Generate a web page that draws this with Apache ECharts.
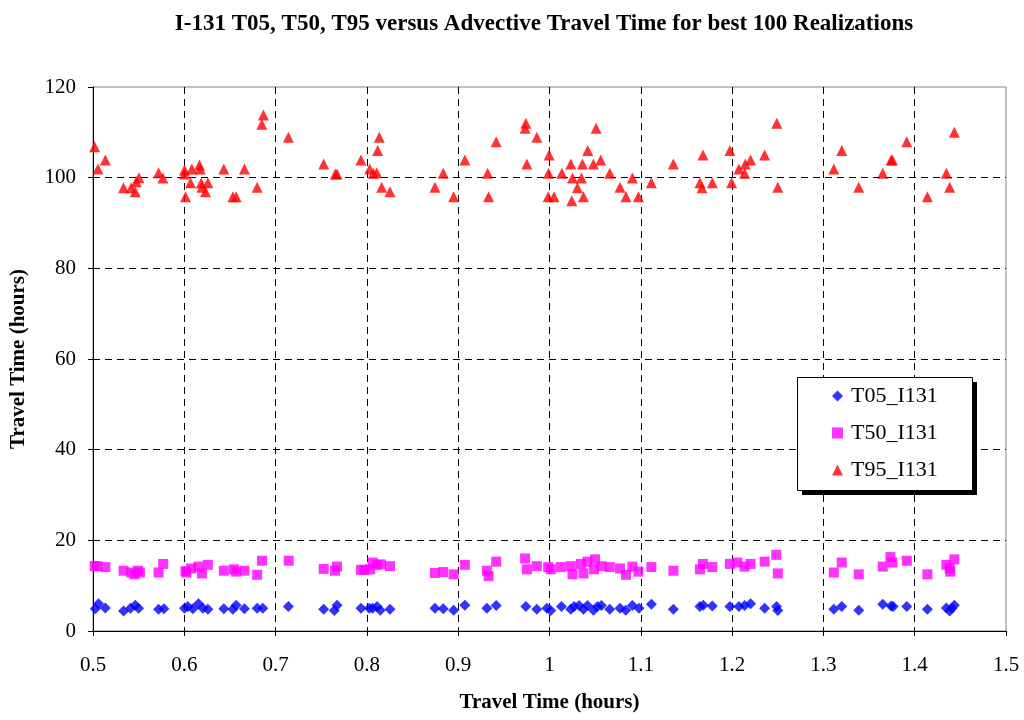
<!DOCTYPE html>
<html>
<head>
<meta charset="utf-8">
<script src="https://cdn.jsdelivr.net/npm/echarts@6/dist/echarts.min.js"></script>
<style>html,body{margin:0;padding:0;background:#fff}#c{width:1024px;height:720px}</style>
</head>
<body>
<div id="c"></div>
<script>
var titleText = 'I-131 T05, T50, T95 versus Advective Travel Time for best 100 Realizations';
var axisTitleX = 'Travel Time (hours)';
var axisTitleY = 'Travel Time (hours)';
var seriesNames = ['T05_I131', 'T50_I131', 'T95_I131'];

var t05X = [0.5025,0.5061,0.5135,0.5335,0.5411,0.5463,0.5499,0.5718,0.5777,0.6002,0.6039,0.6094,0.6155,0.6204,0.6258,0.6433,0.6532,0.6568,0.6659,0.6798,0.6860,0.7140,0.7527,0.7643,0.7673,0.7935,0.8026,0.8063,0.8111,0.8147,0.8253,0.8745,0.8836,0.8950,0.9073,0.9314,0.9416,0.9741,0.9861,0.9971,1.0014,1.0131,1.0233,1.0269,1.0324,1.0372,1.0416,1.0481,1.0525,1.0569,1.0660,1.0772,1.0835,1.0908,1.0980,1.1116,1.1357,1.1648,1.1685,1.1783,1.1976,1.2074,1.2137,1.2202,1.2356,1.2487,1.2501,1.3114,1.3201,1.3387,1.3650,1.3742,1.3764,1.3913,1.4139,1.4347,1.4383,1.4409,1.4434];
var t05Y = [4.9,6.0,5.1,4.4,5.0,5.7,5.0,4.8,4.9,5.0,5.4,4.9,6.0,5.0,4.8,4.9,4.8,5.7,4.9,5.0,5.0,5.4,4.8,4.5,5.7,5.0,5.0,5.0,5.4,4.6,4.8,5.0,4.9,4.6,5.7,5.0,5.6,5.4,4.8,5.0,4.5,5.4,4.8,5.4,5.6,4.8,5.6,4.6,5.4,5.6,4.8,5.0,4.6,5.6,5.0,5.9,4.8,5.4,5.7,5.5,5.4,5.4,5.6,6.0,5.0,5.4,4.5,4.8,5.4,4.6,5.9,5.5,5.4,5.4,4.8,5.1,4.4,5.0,5.7];

var t50X = [0.5018,0.5047,0.5135,0.5335,0.5419,0.5455,0.5492,0.5514,0.5718,0.5769,0.6013,0.6024,0.6075,0.6155,0.6193,0.6258,0.6433,0.6543,0.6568,0.6659,0.6798,0.6852,0.7144,0.7527,0.7651,0.7673,0.7935,0.7972,0.8037,0.8063,0.8107,0.8154,0.8253,0.8745,0.8836,0.8950,0.9073,0.9314,0.9333,0.9416,0.9733,0.9752,0.9861,0.9985,1.0014,1.0124,1.0233,1.0252,1.0343,1.0372,1.0416,1.0499,1.0488,1.0569,1.0660,1.0772,1.0838,1.0908,1.0974,1.1116,1.1357,1.1648,1.1681,1.1783,1.1976,1.2057,1.2137,1.2202,1.2356,1.2484,1.2501,1.3114,1.3201,1.3387,1.3650,1.3734,1.3756,1.3913,1.4139,1.4347,1.4383,1.4390,1.4434];
var t50Y = [14.3,14.3,14.1,13.3,12.9,12.5,13.3,12.9,12.9,14.8,13.2,12.9,13.8,14.2,12.7,14.6,13.3,13.6,13.1,13.3,12.4,15.5,15.5,13.7,13.3,14.2,13.5,13.5,13.6,15.1,14.6,14.7,14.3,12.8,13.0,12.5,14.6,13.3,12.1,15.3,16.0,13.6,14.3,14.1,13.6,14.1,14.3,12.5,14.8,12.7,15.3,15.8,13.6,14.3,14.1,13.8,12.4,14.2,13.1,14.1,13.3,13.6,14.8,14.1,14.8,15.1,14.2,14.8,15.3,16.8,12.7,12.9,15.1,12.5,14.2,16.3,15.1,15.5,12.5,14.6,13.8,13.1,15.8];

var t95X = [0.5018,0.5055,0.5135,0.5335,0.5419,0.5463,0.5474,0.5503,0.5718,0.5766,0.6002,0.6013,0.6002,0.6068,0.6083,0.6166,0.6174,0.6185,0.6193,0.6232,0.6258,0.6433,0.6532,0.6568,0.6659,0.6798,0.6849,0.6867,0.7140,0.7527,0.7654,0.7673,0.7935,0.8031,0.8070,0.8107,0.8118,0.8136,0.8162,0.8253,0.8745,0.8836,0.8950,0.9073,0.9322,0.9333,0.9416,0.9741,0.9733,0.9752,0.9861,0.9996,0.9989,0.9985,1.0050,1.0135,1.0233,1.0252,1.0244,1.0306,1.0350,1.0361,1.0372,1.0419,1.0481,1.0510,1.0561,1.0660,1.0772,1.0838,1.0908,1.0974,1.1116,1.1357,1.1648,1.1670,1.1681,1.1783,1.1976,1.1995,1.2074,1.2137,1.2144,1.2202,1.2356,1.2490,1.2501,1.3114,1.3201,1.3387,1.3650,1.3742,1.3756,1.3913,1.4139,1.4347,1.4383,1.4434];
var t95Y = [106.8,101.9,103.9,97.8,97.8,96.9,99.1,100.0,101.1,99.9,101.7,95.8,100.8,98.9,101.9,102.8,101.9,98.8,97.9,96.9,98.9,101.9,95.8,95.8,101.9,97.9,111.8,113.8,108.9,103.0,100.8,100.8,103.9,101.9,101.0,101.1,106.0,108.9,97.9,96.9,97.9,101.0,95.8,103.9,101.0,95.8,107.9,112.0,110.9,103.0,108.9,105.0,101.0,95.8,95.8,101.0,103.0,99.9,94.9,97.8,99.9,103.0,95.8,106.0,103.0,110.9,103.9,101.0,97.9,95.8,99.9,95.8,98.9,103.0,98.9,97.8,105.0,98.9,106.0,98.9,101.9,101.0,103.0,103.9,105.0,112.0,97.9,101.9,106.0,97.9,101.0,103.9,103.9,107.9,95.8,101.0,97.9,110.0];

var xTicks = {min: 0.5, max: 1.5, interval: 0.1};
var yTicks = {min: 0, max: 120, interval: 20};

function pairs(xs, ys) {
  var out = [];
  for (var i = 0; i < xs.length; i++) out.push([xs[i], ys[i]]);
  return out;
}

var FONT = 'Liberation Serif';
var chart = echarts.init(document.getElementById('c'), null, {renderer: 'canvas'});
var axisCommon = {
  axisLine: {show: true, onZero: false, lineStyle: {color: '#000', width: 1}},
  axisTick: {show: true, inside: false, length: 5, lineStyle: {color: '#000'}},
  splitLine: {show: true, showMaxLine: false, showMinLine: false, lineStyle: {color: '#000', type: [7, 5], width: 1}},
  axisLabel: {color: '#000', fontFamily: FONT, fontSize: 21},
  nameTextStyle: {color: '#000', fontFamily: FONT, fontSize: 21, fontWeight: 'bold'}
};
chart.setOption({
  animation: false,
  backgroundColor: '#fff',
  title: {
    text: titleText,
    left: 539, top: 8, textAlign: 'center',
    textStyle: {fontFamily: FONT, fontSize: 23, fontWeight: 'bold', color: '#000'}
  },
  grid: {
    left: 92, right: 18, top: 87, bottom: 89,
    show: true, borderColor: '#808080', borderWidth: 1, backgroundColor: 'transparent'
  },
  graphic: [
    {type: 'rect', left: 802, top: 382, z: 10, silent: true,
     shape: {width: 175, height: 113}, style: {fill: '#000'}},
    {type: 'rect', left: 797, top: 377, z: 11, silent: true,
     shape: {width: 175, height: 113}, style: {fill: '#fff', stroke: '#000', lineWidth: 1}}
  ],
  legend: {
    z: 12,
    orient: 'vertical',
    left: 832, top: 385,
    padding: 0,
    itemGap: 15,
    itemWidth: 11, itemHeight: 11,
    backgroundColor: 'transparent',
    textStyle: {fontFamily: FONT, fontSize: 22, color: '#000', padding: [0, 0, 0, 3]},
    data: seriesNames
  },
  xAxis: Object.assign({}, axisCommon, {
    type: 'value', min: xTicks.min, max: xTicks.max, interval: xTicks.interval,
    name: axisTitleX, nameLocation: 'middle', nameGap: 61,
    axisLabel: Object.assign({}, axisCommon.axisLabel, {margin: 24})
  }),
  yAxis: Object.assign({}, axisCommon, {
    type: 'value', min: yTicks.min, max: yTicks.max, interval: yTicks.interval,
    name: axisTitleY, nameLocation: 'middle', nameGap: 64,
    axisLabel: Object.assign({}, axisCommon.axisLabel, {margin: 17})
  }),
  series: [
    {name: seriesNames[0], type: 'scatter', symbol: 'diamond', symbolSize: 11,
     itemStyle: {color: '#0000ff'}, data: pairs(t05X, t05Y)},
    {name: seriesNames[1], type: 'scatter', symbol: 'rect', symbolSize: 10,
     itemStyle: {color: '#ff00ff'}, data: pairs(t50X, t50Y)},
    {name: seriesNames[2], type: 'scatter', symbol: 'triangle', symbolSize: 11,
     itemStyle: {color: '#ff0000'}, data: pairs(t95X, t95Y)}
  ]
});
</script>
</body>
</html>
